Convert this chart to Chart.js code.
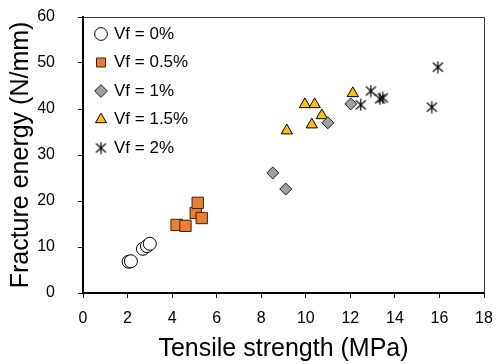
<!DOCTYPE html>
<html>
<head>
<meta charset="utf-8">
<script src="https://cdn.jsdelivr.net/npm/chart.js@4.4.1/dist/chart.umd.min.js"></script>
<style>
  body { margin: 0; background: #ffffff; }
  #grafico { display: block; }
</style>
</head>
<body>
<canvas id="grafico" width="496" height="364"></canvas>
<script>
// Datos: resistencia a tracción (MPa) vs energía de fractura (N/mm)
const etiquetas = ["Vf = 0%", "Vf = 0.5%", "Vf = 1%", "Vf = 1.5%", "Vf = 2%"];

const vf0X = [2.05, 2.15, 2.69, 2.87, 3.0];
const vf0Y = [6.8, 6.9, 9.6, 10.2, 10.7];

const vf05X = [4.2, 4.6, 5.06, 5.15, 5.33];
const vf05Y = [14.8, 14.6, 17.4, 19.6, 16.3];

const vf1X = [8.52, 9.1, 10.99, 12.02];
const vf1Y = [26.1, 22.6, 37.0, 41.1];

const vf15X = [9.96, 10.4, 10.72, 10.27, 9.15, 12.11];
const vf15Y = [41.0, 41.0, 38.6, 36.6, 35.3, 43.4];

const vf2X = [12.92, 12.47, 13.33, 13.46, 15.93, 15.66];
const vf2Y = [43.9, 40.9, 42.2, 42.4, 49.1, 40.4];

function puntos(xs, ys) {
  return xs.map((x, i) => ({ x: x, y: ys[i] }));
}

// Marcador de asterisco (línea vertical + X), como en la figura original
function crearAsterisco() {
  const c = document.createElement("canvas");
  c.width = 13;
  c.height = 13;
  const g = c.getContext("2d");
  g.strokeStyle = "#000000";
  g.lineWidth = 1.2;
  g.beginPath();
  g.moveTo(6.5, 0.5); g.lineTo(6.5, 12.5);
  g.moveTo(1.5, 2); g.lineTo(11.5, 11);
  g.moveTo(11.5, 2); g.lineTo(1.5, 11);
  g.stroke();
  return c;
}
const asterisco = crearAsterisco();

// Marco superior y derecho del área de trazado
const marco = {
  id: "marco",
  afterLayout(chart) {
    // bajar un poco la leyenda dentro del área de trazado
    chart.legend.top += 14;
    chart.legend.bottom += 14;
    chart.legend.left += 2;
    chart.legend.right += 2;
  },
  afterDraw(chart) {
    const a = chart.chartArea;
    const ctx = chart.ctx;
    ctx.save();
    ctx.strokeStyle = "#333333";
    ctx.lineWidth = 1;
    ctx.beginPath();
    ctx.moveTo(a.left, a.top + 0.5);
    ctx.lineTo(a.right + 0.5, a.top + 0.5);
    ctx.lineTo(a.right + 0.5, a.bottom);
    ctx.stroke();
    ctx.restore();
  }
};

const ctx = document.getElementById("grafico").getContext("2d");

new Chart(ctx, {
  type: "scatter",
  data: {
    datasets: [
      {
        label: etiquetas[0],
        data: puntos(vf0X, vf0Y),
        pointStyle: "circle",
        pointRadius: 6.5,
        backgroundColor: "#ffffff",
        borderColor: "#000000",
        borderWidth: 1,
      },
      {
        label: etiquetas[1],
        data: puntos(vf05X, vf05Y),
        pointStyle: "rect",
        pointRadius: 8,
        backgroundColor: "#ED7D31",
        borderColor: "#3a2210",
        borderWidth: 1,
      },
      {
        label: etiquetas[2],
        data: puntos(vf1X, vf1Y),
        pointStyle: "rectRot",
        pointRadius: 6,
        backgroundColor: "#A0A0A0",
        borderColor: "#1a1a1a",
        borderWidth: 1,
      },
      {
        label: etiquetas[3],
        data: puntos(vf15X, vf15Y),
        pointStyle: "triangle",
        pointRadius: 6.5,
        backgroundColor: "#FFC000",
        borderColor: "#000000",
        borderWidth: 1,
      },
      {
        label: etiquetas[4],
        data: puntos(vf2X, vf2Y),
        pointStyle: asterisco,
        pointRadius: 6,
        backgroundColor: "#000000",
        borderColor: "#000000",
        borderWidth: 1,
      },
    ],
  },
  options: {
    responsive: false,
    animation: false,
    devicePixelRatio: 1,
    layout: { padding: { top: 17, right: 12, left: 0, bottom: 0 } },
    plugins: {
      tooltip: { enabled: false },
      legend: {
        display: true,
        position: "chartArea",
        fullSize: false,
        align: "start",
        labels: {
          usePointStyle: true,
          boxWidth: 9,
          boxHeight: 9,
          padding: 11.5,
          color: "#000000",
          font: { size: 17, family: "Arial, 'Liberation Sans'" },
        },
      },
    },
    scales: {
      x: {
        type: "linear",
        min: 0,
        max: 18,
        ticks: {
          stepSize: 2,
          color: "#000000",
          padding: 11,
          font: { size: 16, family: "Arial, 'Liberation Sans'" },
        },
        grid: {
          drawOnChartArea: false,
          drawTicks: true,
          tickLength: 5,
          tickColor: "#000000",
          tickWidth: 1,
        },
        border: { color: "#000000", width: 2 },
        title: {
          display: true,
          text: "Tensile strength (MPa)",
          color: "#000000",
          padding: { top: 0, bottom: 0 },
          font: { size: 25, family: "Arial, 'Liberation Sans'" },
        },
        afterFit: (scale) => {
          scale.height = 71;
          scale.paddingLeft = 0;
          scale.paddingRight = 0;
        },
      },
      y: {
        type: "linear",
        min: 0,
        max: 60,
        ticks: {
          stepSize: 10,
          color: "#000000",
          padding: 23,
          font: { size: 16, family: "Arial, 'Liberation Sans'" },
        },
        grid: {
          drawOnChartArea: false,
          drawTicks: true,
          tickLength: 5,
          tickColor: "#000000",
          tickWidth: 1,
        },
        border: { color: "#000000", width: 2 },
        title: {
          display: true,
          text: "Fracture energy (N/mm)",
          color: "#000000",
          padding: { top: 6, bottom: 0 },
          font: { size: 25, family: "Arial, 'Liberation Sans'" },
        },
        afterFit: (scale) => {
          scale.width = 83;
          scale.paddingTop = 0;
          scale.paddingBottom = 0;
        },
      },
    },
  },
  plugins: [marco],
});
</script>
</body>
</html>
